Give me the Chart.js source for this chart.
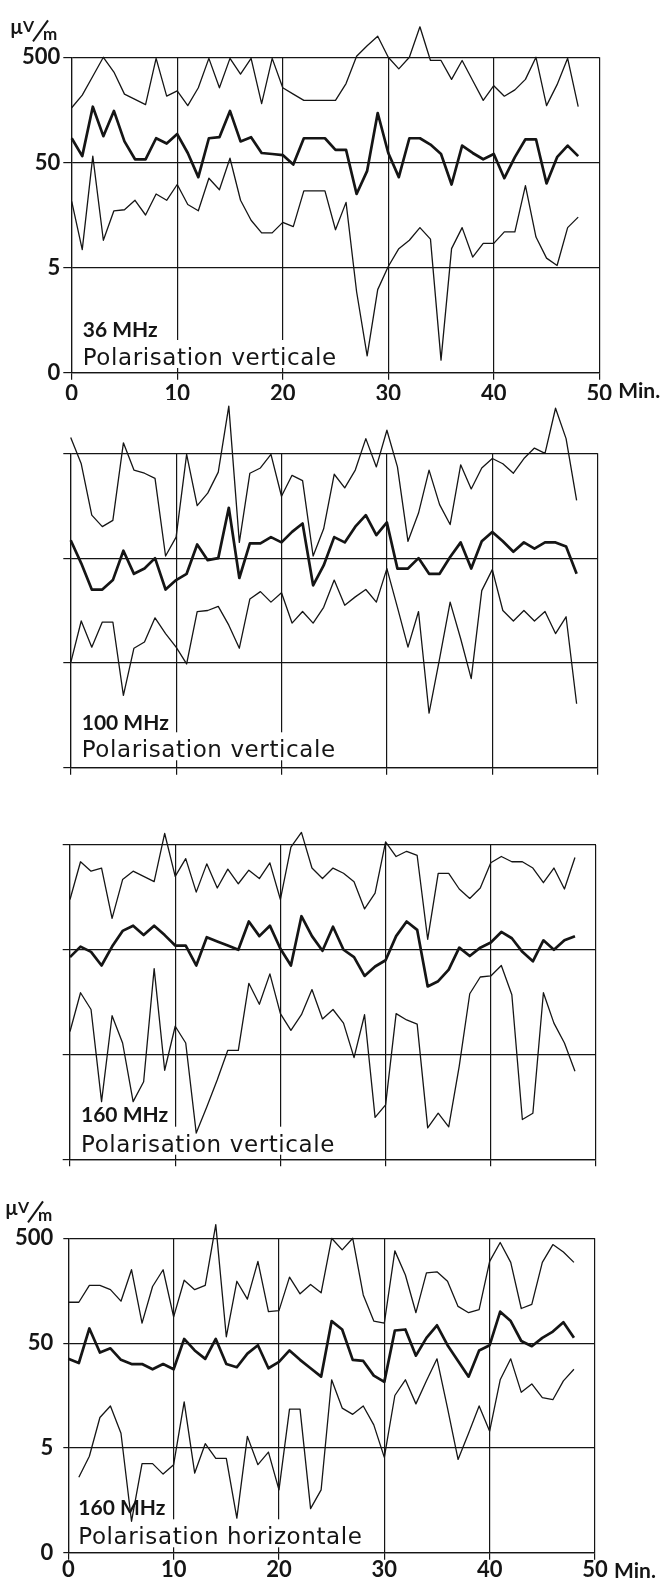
<!DOCTYPE html>
<html>
<head>
<meta charset="utf-8">
<script src="https://cdn.jsdelivr.net/npm/chart.js@4.4.1/dist/chart.umd.min.js"></script>
<style>
  body { margin: 0; background: #fff; width: 660px; height: 1584px; position: relative; overflow: hidden; }
  .panel { position: absolute; left: 0; width: 660px; }
</style>
</head>
<body>
<div class="panel" style="top:0;height:400px"><canvas id="p36v"></canvas></div>
<div class="panel" style="top:400px;height:385px"><canvas id="p100v"></canvas></div>
<div class="panel" style="top:785px;height:395px"><canvas id="p160v"></canvas></div>
<div class="panel" style="top:1180px;height:404px"><canvas id="p160h"></canvas></div>
<script>
// time axis (minutes) and tick labels
const minutes = [0, 1, 2, 3, 4, 5, 6, 7, 8, 9, 10, 11, 12, 13, 14, 15, 16, 17, 18, 19, 20, 21, 22, 23, 24,
  25, 26, 27, 28, 29, 30, 31, 32, 33, 34, 35, 36, 37, 38, 39, 40, 41, 42, 43, 44, 45, 46, 47, 48]
const xTicks = [0, 10, 20, 30, 40, 50]
const yTicks = [0, 1, 2, 3]
const yTickLabels = ['0', '5', '50', '500']

// field strength, read in decades on the chart scale (0 -> "0", 1 -> 5, 2 -> 50, 3 -> 500 uV/m)
// 36 MHz, vertical
const max36v = [2.52, 2.64, 2.82, 3.0, 2.86, 2.65, 2.60, 2.55, 2.99, 2.63, 2.68, 2.54, 2.71, 2.99, 2.71, 2.99, 2.84,
  2.99, 2.56, 2.99, 2.71, 2.65, 2.59, 2.59, 2.59, 2.59, 2.75, 3.01, 3.11, 3.20, 3.0, 2.89, 3.0, 3.29, 2.97, 2.97,
  2.79, 2.97, 2.78, 2.59, 2.73, 2.63, 2.69, 2.79, 3.0, 2.54, 2.74, 2.99, 2.53]
const med36v = [2.23, 2.06, 2.53, 2.25, 2.49, 2.20, 2.03, 2.03, 2.23, 2.18, 2.27, 2.09, 1.86, 2.23, 2.24, 2.49, 2.20,
  2.24, 2.09, 2.08, 2.07, 1.98, 2.23, 2.23, 2.23, 2.12, 2.12, 1.70, 1.92, 2.47, 2.09, 1.86, 2.23, 2.23, 2.17, 2.08,
  1.79, 2.16, 2.09, 2.03, 2.08, 1.85, 2.05, 2.22, 2.22, 1.80, 2.05, 2.16, 2.06]
const min36v = [1.63, 1.17, 2.06, 1.26, 1.54, 1.55, 1.64, 1.50, 1.70, 1.64, 1.79, 1.60, 1.54, 1.85, 1.74, 2.04, 1.64,
  1.45, 1.33, 1.33, 1.43, 1.39, 1.73, 1.73, 1.73, 1.36, 1.62, 0.77, 0.16, 0.79, 1.01, 1.18, 1.26, 1.38, 1.27, 0.12,
  1.18, 1.38, 1.10, 1.23, 1.23, 1.34, 1.34, 1.78, 1.29, 1.09, 1.02, 1.38, 1.48]

// 100 MHz, vertical
const max100v = [3.15, 2.90, 2.41, 2.30, 2.36, 3.10, 2.84, 2.81, 2.76, 2.02, 2.20, 2.99, 2.50, 2.62, 2.82, 3.45, 2.15,
  2.81, 2.86, 2.99, 2.59, 2.79, 2.74, 2.02, 2.28, 2.80, 2.67, 2.84, 3.14, 2.87, 3.22, 2.87, 2.16, 2.43, 2.84, 2.51,
  2.32, 2.89, 2.66, 2.86, 2.95, 2.90, 2.81, 2.95, 3.05, 3.00, 3.43, 3.14, 2.55]
const med100v = [2.17, 1.95, 1.70, 1.70, 1.79, 2.07, 1.85, 1.90, 2.00, 1.70, 1.79, 1.85, 2.13, 1.98, 2.00, 2.48, 1.81,
  2.14, 2.14, 2.20, 2.15, 2.25, 2.33, 1.74, 1.93, 2.20, 2.15, 2.30, 2.41, 2.22, 2.34, 1.90, 1.90, 2.00, 1.85, 1.85,
  2.01, 2.15, 1.90, 2.16, 2.25, 2.16, 2.06, 2.15, 2.09, 2.15, 2.15, 2.11, 1.85]
const min100v = [1.00, 1.40, 1.15, 1.39, 1.39, 0.69, 1.14, 1.20, 1.43, 1.28, 1.15, 0.99, 1.49, 1.50, 1.54, 1.36, 1.14,
  1.61, 1.68, 1.58, 1.67, 1.38, 1.49, 1.38, 1.53, 1.79, 1.55, 1.63, 1.70, 1.58, 1.90, 1.53, 1.15, 1.49, 0.52, 1.04,
  1.58, 1.23, 0.85, 1.69, 1.89, 1.50, 1.40, 1.50, 1.40, 1.49, 1.28, 1.44, 0.61]

// 160 MHz, vertical
const max160v = [2.48, 2.84, 2.75, 2.78, 2.30, 2.67, 2.75, 2.70, 2.65, 3.11, 2.70, 2.87, 2.55, 2.82, 2.59, 2.77, 2.63,
  2.76, 2.68, 2.83, 2.48, 2.98, 3.12, 2.78, 2.68, 2.78, 2.73, 2.65, 2.39, 2.54, 3.03, 2.89, 2.94, 2.90, 2.10, 2.73,
  2.73, 2.58, 2.49, 2.59, 2.83, 2.89, 2.84, 2.84, 2.78, 2.64, 2.78, 2.58, 2.88]
const med160v = [1.93, 2.03, 1.98, 1.85, 2.03, 2.18, 2.23, 2.14, 2.23, 2.14, 2.04, 2.04, 1.85, 2.12, 2.08, 2.04, 2.00,
  2.27, 2.13, 2.23, 2.01, 1.85, 2.32, 2.13, 1.99, 2.22, 2.00, 1.93, 1.75, 1.84, 1.90, 2.13, 2.27, 2.19, 1.65, 1.70,
  1.81, 2.02, 1.94, 2.02, 2.07, 2.17, 2.11, 1.98, 1.89, 2.09, 2.00, 2.09, 2.13]
const min160v = [1.22, 1.59, 1.43, 0.55, 1.37, 1.11, 0.55, 0.74, 1.82, 0.85, 1.27, 1.11, 0.25, 0.50, 0.76, 1.04, 1.04,
  1.68, 1.48, 1.77, 1.39, 1.23, 1.38, 1.62, 1.34, 1.43, 1.30, 0.97, 1.38, 0.40, 0.52, 1.39, 1.33, 1.29, 0.30, 0.44,
  0.31, 0.89, 1.58, 1.74, 1.75, 1.85, 1.57, 0.38, 0.44, 1.59, 1.30, 1.11, 0.84]

// 160 MHz, horizontal
const max160h = [2.39, 2.39, 2.55, 2.55, 2.51, 2.40, 2.70, 2.19, 2.54, 2.70, 2.25, 2.60, 2.51, 2.55, 3.13, 2.06, 2.59,
  2.42, 2.78, 2.30, 2.31, 2.63, 2.47, 2.56, 2.48, 3.00, 2.89, 3.00, 2.46, 2.21, 2.19, 2.88, 2.65, 2.29, 2.67, 2.68,
  2.59, 2.35, 2.29, 2.32, 2.78, 2.96, 2.77, 2.33, 2.37, 2.77, 2.94, 2.87, 2.77]
const med160h = [1.85, 1.81, 2.14, 1.91, 1.95, 1.84, 1.80, 1.80, 1.75, 1.80, 1.75, 2.04, 1.93, 1.85, 2.04, 1.80, 1.77,
  1.90, 1.98, 1.76, 1.82, 1.93, 1.84, 1.76, 1.68, 2.21, 2.13, 1.84, 1.83, 1.69, 1.63, 2.12, 2.13, 1.88, 2.05, 2.17,
  1.98, 1.83, 1.68, 1.93, 1.98, 2.30, 2.21, 2.02, 1.97, 2.05, 2.11, 2.20, 2.05]
const min160h = [null, 0.72, 0.92, 1.29, 1.40, 1.14, 0.30, 0.85, 0.85, 0.75, 0.84, 1.44, 0.76, 1.04, 0.90, 0.90, 0.33,
  1.11, 0.84, 0.96, 0.60, 1.37, 1.37, 0.42, 0.60, 1.65, 1.38, 1.32, 1.40, 1.22, 0.91, 1.50, 1.65, 1.42, 1.64, 1.85,
  1.38, 0.89, 1.14, 1.40, 1.16, 1.65, 1.85, 1.53, 1.61, 1.48, 1.46, 1.64, 1.75]

const INK = '#151515'

// panel label, white patch behind the polarisation line, unit and "Min." text
const decor = {
  id: 'decor',
  beforeDatasetsDraw(chart, args, o) {
    const ctx = chart.ctx
    const a = chart.chartArea
    const x = a.left + o.textDx
    ctx.save()
    ctx.font = '23px "DejaVu Sans"'
    ctx.letterSpacing = '0.6px'
    const w = ctx.measureText(o.pol).width
    ctx.fillStyle = '#fff'
    ctx.fillRect(x - 3, a.bottom - o.polUp - 25, w + 6, 28)
    ctx.fillStyle = INK
    ctx.textBaseline = 'alphabetic'
    ctx.fillText(o.pol, x, a.bottom - o.polUp)
    ctx.letterSpacing = '0px'
    ctx.font = 'bold 21px Lato'
    ctx.fillText(o.freq, x, a.bottom - o.freqUp)
    ctx.restore()
  },
  afterDraw(chart, args, o) {
    if (!o.axisText) return
    const ctx = chart.ctx
    const a = chart.chartArea
    ctx.save()
    ctx.fillStyle = INK
    ctx.strokeStyle = INK
    ctx.font = 'bold 21px Lato'
    ctx.textBaseline = 'middle'
    const p50 = chart.scales.x.getPixelForValue(50)
    ctx.fillText('Min.', p50 + 19, a.bottom + o.minDy)

    const t = a.top
    const ux = o.unitX
    ctx.textBaseline = 'alphabetic'
    ctx.font = 'bold 20px Lato'
    ctx.fillText('µ', ux, t - 23)
    ctx.font = 'bold 16px Lato'
    ctx.fillText('V', ux + 13, t - 25)
    ctx.lineWidth = 2
    ctx.beginPath()
    ctx.moveTo(ux + 23, t - 16)
    ctx.lineTo(ux + 38, t - 37)
    ctx.stroke()
    ctx.font = 'bold 17px Lato'
    ctx.fillText('m', ux + 33, t - 17)
    ctx.restore()
  }
}

function line(values, width) {
  return {
    data: minutes.map((m, i) => ({ x: m, y: values[i] })),
    borderColor: INK,
    borderWidth: width,
    pointRadius: 0,
    tension: 0,
    clip: false,
    borderJoinStyle: 'round'
  }
}

function makePanel(cfg) {
  return new Chart(document.getElementById(cfg.id), {
    type: 'line',
    data: {
      datasets: [line(cfg.series[0], 1.3), line(cfg.series[1], 2.7), line(cfg.series[2], 1.3)]
    },
    options: {
      responsive: true,
      maintainAspectRatio: false,
      animation: false,
      events: [],
      layout: { padding: { top: cfg.top, right: 660 - cfg.right, bottom: 0, left: 0 } },
      plugins: {
        legend: { display: false },
        tooltip: { enabled: false },
        decor: cfg.decor
      },
      scales: {
        x: {
          type: 'linear',
          min: 0,
          max: 50,
          afterFit: s => { s.height = cfg.xh },
          afterBuildTicks: s => { s.ticks = xTicks.map(v => ({ value: v })) },
          grid: { color: INK, lineWidth: 1.2, tickLength: 7, tickColor: INK },
          border: { color: INK, width: 1.2 },
          ticks: {
            display: cfg.labels,
            color: INK,
            padding: cfg.xpad,
            maxRotation: 0,
            font: { family: 'Lato', size: 22, weight: 'bold', lineHeight: 0.85 },
            callback: v => String(v)
          }
        },
        y: {
          min: 0,
          max: 3,
          afterFit: s => { s.width = cfg.left },
          afterBuildTicks: s => { s.ticks = yTicks.map(v => ({ value: v })) },
          grid: { color: INK, lineWidth: 1.2, tickLength: cfg.ytl, tickColor: INK },
          border: { color: INK, width: 1.2 },
          ticks: {
            display: cfg.labels,
            color: INK,
            padding: cfg.ypad,
            font: { family: 'Lato', size: 22, weight: 'bold' },
            callback: v => yTickLabels[v]
          }
        }
      }
    },
    plugins: [decor]
  })
}

makePanel({
  id: 'p36v', top: 57.3, left: 71.7, right: 599.3, xh: 27.3, ytl: 8.4, ypad: 3, xpad: 5, labels: true,
  series: [max36v, med36v, min36v],
  decor: { textDx: 11, freq: '36 MHz', freqUp: 36, pol: 'Polarisation verticale', polUp: 7.7, axisText: true, minDy: 19, unitX: 10 }
})
makePanel({
  id: 'p100v', top: 53.3, left: 70.7, right: 597.7, xh: 17.3, ytl: 7.4, ypad: 3, xpad: 0, labels: false,
  series: [max100v, med100v, min100v],
  decor: { textDx: 11, freq: '100 MHz', freqUp: 37.7, pol: 'Polarisation verticale', polUp: 10.4, axisText: false }
})
makePanel({
  id: 'p160v', top: 60, left: 70, right: 596, xh: 20.7, ytl: 7.3, ypad: 3, xpad: 0, labels: false,
  series: [max160v, med160v, min160v],
  decor: { textDx: 11, freq: '160 MHz', freqUp: 37.6, pol: 'Polarisation verticale', polUp: 7.6, axisText: false }
})
makePanel({
  id: 'p160h', top: 58.3, left: 68.3, right: 595, xh: 31.3, ytl: 5, ypad: 10, xpad: 1, labels: true,
  series: [max160h, med160h, min160h],
  decor: { textDx: 10, freq: '160 MHz', freqUp: 37.7, pol: 'Polarisation horizontale', polUp: 8.4, axisText: true, minDy: 19, unitX: 5 }
})
</script>
</body>
</html>
